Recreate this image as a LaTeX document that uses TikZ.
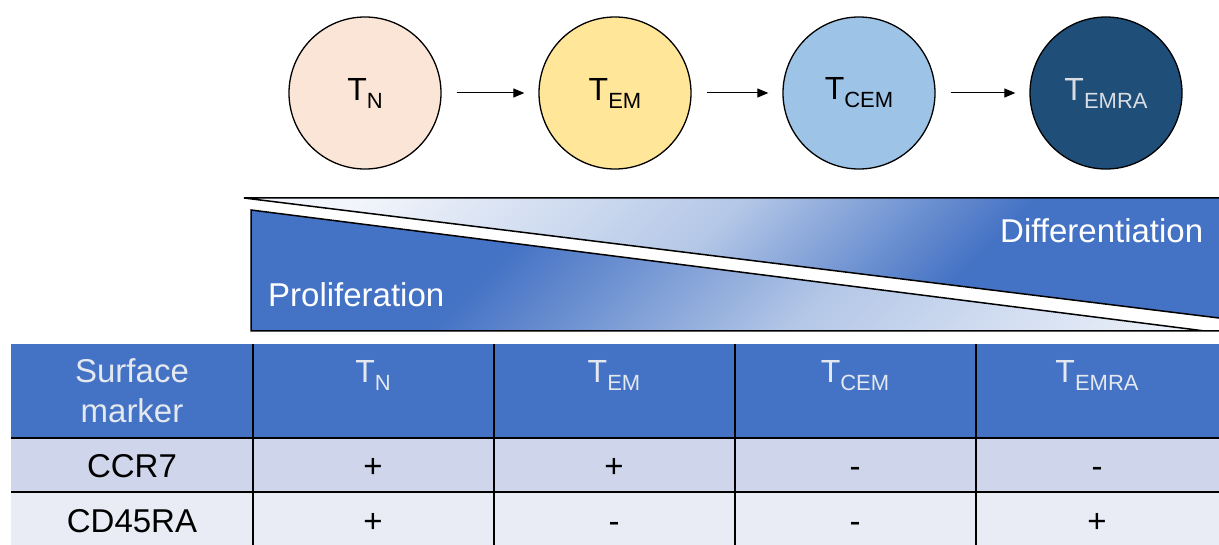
\documentclass[tikz,border=0pt]{standalone}
\usepackage{fontspec}
\setmainfont{Liberation Sans}
\usetikzlibrary{arrows.meta}
\definecolor{hblue}{HTML}{4472C4}
\definecolor{rowa}{HTML}{CFD5EA}
\definecolor{rowb}{HTML}{E9EBF5}
\definecolor{cTN}{HTML}{FBE5D6}
\definecolor{cTEM}{HTML}{FFE699}
\definecolor{cTCEM}{HTML}{9DC3E6}
\definecolor{cTEMRA}{HTML}{1F4E79}
\definecolor{gl}{HTML}{F2F5FB}
\definecolor{gm}{HTML}{B4C7E7}
\definecolor{htext}{HTML}{E4E8EF}
\definecolor{dtext}{HTML}{D9DDE3}
\pgfdeclarehorizontalshading{upgrad}{100bp}{color(0bp)=(gl); color(22bp)=(gl); color(47bp)=(gm); color(66bp)=(hblue); color(100bp)=(hblue)}
\pgfdeclarehorizontalshading{lowgrad}{100bp}{color(0bp)=(hblue); color(34bp)=(hblue); color(58bp)=(gm); color(86bp)=(gl); color(100bp)=(gl)}
\newcommand{\Tsub}[1]{T\raisebox{-8pt}{\fontsize{22}{22}\selectfont #1}}
\begin{document}
\begin{tikzpicture}[x=1pt,y=-1pt,
  cell/.style={circle,draw=black,line width=1.3pt,minimum size=152pt,inner sep=0pt,font=\fontsize{32}{32}\selectfont},
  arr/.style={-{Triangle[length=11pt,width=9pt]},line width=1pt,shorten <=15pt,shorten >=14pt},
  tline/.style={draw=black,line width=1.5pt},
  hdr/.style={anchor=base,inner sep=0pt,text=htext,font=\fontsize{33}{33}\selectfont},
  body/.style={anchor=base,inner sep=0pt,text=black,font=\fontsize{33}{33}\selectfont},
  gtext/.style={anchor=base west,inner sep=0pt,text=white,font=\fontsize{33}{33}\selectfont}]
\useasboundingbox (0,0) rectangle (1219,545);
% cells
\node[cell,fill=cTN] (tn) at (365,93) {\Tsub{N}};
\node[cell,fill=cTEM] (tem) at (615,93) {\Tsub{EM}};
\node[cell,fill=cTCEM] (tcem) at (859,93) {\Tsub{CEM}};
\node[cell,fill=cTEMRA,text=dtext] (temra) at (1106,93) {\Tsub{EMRA}};
\draw[arr] (tn) -- (tem);
\draw[arr] (tem) -- (tcem);
\draw[arr] (tcem) -- (temra);
% gradient triangles
\shade[shading=upgrad,shading angle=-45] (244,198) -- (1219,198) -- (1219,318) -- cycle;
\draw[line width=1.5pt] (1219,318) -- (244,198) -- (1219,198);
\shade[shading=lowgrad,shading angle=-45] (251,210) -- (1205,331) -- (251,331) -- cycle;
\draw[line width=1.5pt] (1205,331) -- (251,210) -- (251,331) -- (1219,331);
\node[gtext] (prolif) at (268,307) {Proliferation};
\node[gtext] (diff) at (1000,243) {Differentiation};
% table
\fill[hblue] (11,344) rectangle (1219,438);
\fill[rowa] (11,438) rectangle (1219,492);
\fill[rowb] (11,492) rectangle (1219,545);
\draw[tline] (11,438) -- (1219,438);
\draw[tline] (11,492) -- (1219,492);
\foreach \x in {253,494,735,976} \draw[tline] (\x,344) -- (\x,545);
\node[hdr] (h0a) at (132,383) {Surface};
\node[hdr] (h0b) at (132,423) {marker};
\node[hdr,font=\fontsize{32}{32}\selectfont] (h1) at (373,383) {\Tsub{N}};
\node[hdr,font=\fontsize{32}{32}\selectfont] (h2) at (614,383) {\Tsub{EM}};
\node[hdr,font=\fontsize{32}{32}\selectfont] (h3) at (855,383) {\Tsub{CEM}};
\node[hdr,font=\fontsize{32}{32}\selectfont] (h4) at (1097,383) {\Tsub{EMRA}};
\node[body] (r1) at (132,477) {CCR7};
\node[body] (r1a) at (373,477) {+};
\node[body] (r1b) at (614,477) {+};
\node[body] (r1c) at (855,477) {-};
\node[body] (r1d) at (1097,477) {-};
\node[body] (r2) at (132,532) {CD45RA};
\node[body] (r2a) at (373,532) {+};
\node[body] (r2b) at (614,532) {-};
\node[body] (r2c) at (855,532) {-};
\node[body] (r2d) at (1097,532) {+};
\end{tikzpicture}
\end{document}
